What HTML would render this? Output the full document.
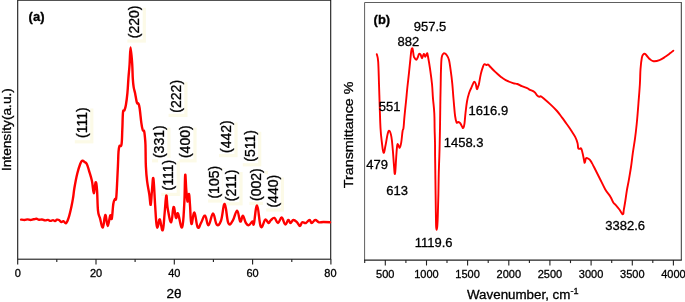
<!DOCTYPE html>
<html lang="en"><head><meta charset="utf-8"><title>XRD and FTIR</title>
<style>html,body{margin:0;padding:0;background:#fff}body{width:685px;height:302px;overflow:hidden}svg{display:block}text{font-family:"Liberation Sans", sans-serif;fill:#000;stroke:#000;stroke-width:0.3px}</style></head><body>
<svg width="685" height="302" viewBox="0 0 685 302">
<rect width="685" height="302" fill="#fff"/>
<g id="xrd">
<rect x="74.8" y="108.5" width="18.6" height="34.9" fill="#fcfae7"/>
<rect x="127.4" y="7.8" width="18.5" height="34.8" fill="#fcfae7"/>
<rect x="168.6" y="82.2" width="18.9" height="34.8" fill="#fcfae7"/>
<rect x="152.1" y="127.6" width="18.4" height="34.8" fill="#fcfae7"/>
<rect x="179.2" y="127.6" width="17.4" height="34.8" fill="#fcfae7"/>
<rect x="161.3" y="161.1" width="18.6" height="34.9" fill="#fcfae7"/>
<rect x="219.0" y="122.5" width="18.6" height="34.7" fill="#fcfae7"/>
<rect x="242.8" y="131.8" width="18.5" height="34.6" fill="#fcfae7"/>
<rect x="208.1" y="168.4" width="17.0" height="34.2" fill="#fcfae7"/>
<rect x="225.6" y="172.0" width="17.0" height="33.4" fill="#fcfae7"/>
<rect x="249.4" y="170.9" width="18.5" height="34.1" fill="#fcfae7"/>
<rect x="266.2" y="177.5" width="17.8" height="34.1" fill="#fcfae7"/>
<rect x="71.6" y="105.3" width="18.6" height="34.9" fill="#fff"/>
<rect x="124.2" y="4.6" width="18.5" height="34.8" fill="#fff"/>
<rect x="165.4" y="79.0" width="18.9" height="34.8" fill="#fff"/>
<rect x="148.9" y="124.4" width="18.4" height="34.8" fill="#fff"/>
<rect x="176.0" y="124.4" width="17.4" height="34.8" fill="#fff"/>
<rect x="158.1" y="157.9" width="18.6" height="34.9" fill="#fff"/>
<rect x="215.8" y="119.3" width="18.6" height="34.7" fill="#fff"/>
<rect x="239.6" y="128.6" width="18.5" height="34.6" fill="#fff"/>
<rect x="204.9" y="165.2" width="17.0" height="34.2" fill="#fff"/>
<rect x="222.4" y="168.8" width="17.0" height="33.4" fill="#fff"/>
<rect x="246.2" y="167.7" width="18.5" height="34.1" fill="#fff"/>
<rect x="263.0" y="174.3" width="17.8" height="34.1" fill="#fff"/>
<rect x="17.7" y="0.2" width="313.0" height="259.0" fill="none" stroke="#1a1a1a" stroke-width="1.1"/>
<line x1="17.7" y1="259.2" x2="17.7" y2="264.4" stroke="#1a1a1a" stroke-width="1.1"/>
<line x1="56.8" y1="259.2" x2="56.8" y2="262.0" stroke="#1a1a1a" stroke-width="1.1"/>
<line x1="96.0" y1="259.2" x2="96.0" y2="264.4" stroke="#1a1a1a" stroke-width="1.1"/>
<line x1="135.1" y1="259.2" x2="135.1" y2="262.0" stroke="#1a1a1a" stroke-width="1.1"/>
<line x1="174.3" y1="259.2" x2="174.3" y2="264.4" stroke="#1a1a1a" stroke-width="1.1"/>
<line x1="213.4" y1="259.2" x2="213.4" y2="262.0" stroke="#1a1a1a" stroke-width="1.1"/>
<line x1="252.6" y1="259.2" x2="252.6" y2="264.4" stroke="#1a1a1a" stroke-width="1.1"/>
<line x1="291.8" y1="259.2" x2="291.8" y2="262.0" stroke="#1a1a1a" stroke-width="1.1"/>
<line x1="330.9" y1="259.2" x2="330.9" y2="264.4" stroke="#1a1a1a" stroke-width="1.1"/>
<text x="17.7" y="277" font-size="11" text-anchor="middle">0</text>
<text x="96.0" y="277" font-size="11" text-anchor="middle">20</text>
<text x="174.3" y="277" font-size="11" text-anchor="middle">40</text>
<text x="252.6" y="277" font-size="11" text-anchor="middle">60</text>
<text x="330.4" y="277" font-size="11" text-anchor="middle">80</text>
<text x="174" y="297.6" font-size="13.5" text-anchor="middle">2θ</text>
<text transform="translate(10.6 129.6) rotate(-90)" font-size="12.6" text-anchor="middle" textLength="83" lengthAdjust="spacingAndGlyphs">Intensity(a.u.)</text>
<text x="28.6" y="21.4" font-size="13" font-weight="bold">(a)</text>
<path fill="none" stroke="#ff0000" stroke-width="2.4" stroke-linejoin="round" stroke-linecap="round" d="M21.1 219.6C21.8 219.7 23.2 220.0 24.5 220.0C25.8 220.0 26.3 219.4 27.5 219.4C28.7 219.4 29.3 220.0 30.5 220.0C31.7 220.0 32.3 219.5 33.5 219.3C34.7 219.1 35.3 218.7 36.4 218.8C37.5 218.9 37.9 219.6 39.0 219.7C40.1 219.8 40.8 219.4 42.0 219.5C43.2 219.6 43.8 220.3 45.0 220.4C46.2 220.5 46.9 219.8 48.0 219.9C49.1 220.0 49.5 220.9 50.5 220.9C51.5 220.9 52.1 220.1 53.0 220.1C53.9 220.1 54.2 221.1 55.0 221.0C55.8 220.9 56.2 219.9 57.0 219.7C57.8 219.5 58.1 219.5 59.0 220.0C59.9 220.5 60.4 221.8 61.3 222.0C62.2 222.2 62.5 220.9 63.4 221.1C64.3 221.3 65.0 223.8 66.0 223.2C67.0 222.6 67.5 221.3 68.6 217.9C69.7 214.5 70.6 210.4 71.5 206.2C72.4 202.0 72.6 200.6 73.2 197.0C73.8 193.4 73.6 192.7 74.4 188.0C75.2 183.3 76.1 178.3 77.3 173.5C78.5 168.7 79.2 166.6 80.2 164.0C81.2 161.4 81.5 161.1 82.4 160.7C83.3 160.3 83.6 161.3 84.5 162.0C85.4 162.7 85.9 162.3 86.8 164.0C87.7 165.7 88.0 167.2 89.0 170.6C90.0 174.0 90.9 176.3 91.9 180.8C92.9 185.3 93.1 192.9 93.8 193.2C94.5 193.5 95.0 183.0 95.6 182.3C96.2 181.6 96.5 183.9 97.0 189.6C97.5 195.3 97.4 204.9 98.0 210.6C98.6 216.3 98.9 214.5 99.9 217.9C100.9 221.3 101.8 228.0 102.9 227.4C104.0 226.8 104.3 215.3 105.3 215.0C106.3 214.7 106.7 225.9 107.7 226.0C108.7 226.1 109.4 217.0 110.2 215.5C111.0 214.0 111.2 220.9 111.8 218.6C112.4 216.3 112.7 207.9 113.3 204.0C113.9 200.1 114.4 200.2 115.0 199.0C115.6 197.8 115.8 201.8 116.2 198.2C116.6 194.6 116.9 187.5 117.2 181.2C117.5 174.9 117.6 172.4 117.9 166.6C118.2 160.8 118.2 156.1 118.5 152.0C118.8 147.9 118.8 147.7 119.4 146.2C120.0 144.7 120.9 147.8 121.5 144.5C122.1 141.2 122.0 136.3 122.3 129.9C122.6 123.5 122.6 116.3 123.0 112.4C123.4 108.5 123.9 111.7 124.5 110.2C125.1 108.7 125.3 108.4 125.9 105.0C126.5 101.6 126.9 98.5 127.4 93.2C127.9 87.9 128.0 84.4 128.4 78.6C128.8 72.8 129.2 70.2 129.6 64.0C130.0 57.8 130.1 47.4 130.6 47.4C131.1 47.4 131.8 57.8 132.2 64.0C132.6 70.2 132.5 73.9 132.8 78.6C133.1 83.3 133.2 84.5 133.7 87.4C134.2 90.3 134.5 90.1 135.1 93.2C135.7 96.3 136.3 100.7 136.9 102.7C137.5 104.7 137.8 102.3 138.3 103.4C138.8 104.5 139.0 104.2 139.6 108.0C140.2 111.8 140.7 118.2 141.3 122.6C141.9 127.0 142.1 128.1 142.7 129.9C143.3 131.7 143.7 129.1 144.2 131.4C144.7 133.7 145.0 137.5 145.3 141.6C145.6 145.7 145.5 147.0 145.6 152.0C145.7 157.0 145.6 160.8 145.9 166.6C146.2 172.4 146.4 175.7 147.1 181.2C147.8 186.7 148.6 189.6 149.3 194.3C150.0 199.0 150.2 205.7 150.7 204.8C151.2 203.9 151.5 195.3 152.0 190.0C152.5 184.7 152.8 175.5 153.4 178.5C154.0 181.5 154.5 195.5 155.1 204.8C155.7 214.1 156.0 221.0 156.6 225.2C157.2 229.4 157.4 227.2 158.0 226.0C158.6 224.8 158.9 218.5 159.8 219.4C160.7 220.3 161.7 231.5 162.7 230.3C163.7 229.1 163.9 220.5 164.6 213.5C165.3 206.5 165.7 196.4 166.3 195.5C166.9 194.6 166.8 203.6 167.8 209.0C168.8 214.4 170.0 222.7 171.2 222.3C172.4 221.9 172.6 207.9 173.6 207.0C174.6 206.1 175.1 216.6 176.0 217.9C176.9 219.2 176.8 211.6 178.0 213.5C179.2 215.4 180.8 229.4 182.1 227.4C183.4 225.4 183.7 213.8 184.3 203.3C184.9 192.8 184.8 177.7 185.2 175.0C185.6 172.3 185.8 184.7 186.3 190.0C186.8 195.3 187.0 200.7 187.5 201.5C188.0 202.3 188.5 193.3 189.0 194.0C189.5 194.7 189.5 199.0 190.0 205.0C190.5 211.0 190.5 222.5 191.4 224.0C192.3 225.5 193.1 211.8 194.4 212.5C195.7 213.2 196.3 225.4 197.7 227.4C199.1 229.4 199.8 224.6 201.3 222.3C202.8 220.0 203.5 215.1 205.0 215.7C206.5 216.3 207.0 225.6 208.6 225.2C210.2 224.8 211.4 213.6 213.0 213.5C214.6 213.4 215.1 223.0 216.7 224.5C218.3 226.0 219.4 224.9 221.0 220.8C222.6 216.7 223.2 203.6 224.7 204.0C226.2 204.4 226.7 219.6 228.3 223.0C229.9 226.4 230.9 223.3 232.7 220.8C234.5 218.3 235.6 210.5 237.1 210.6C238.6 210.7 239.1 220.5 240.3 221.5C241.5 222.5 241.8 215.4 242.9 215.7C244.0 216.0 244.7 221.1 245.9 223.0C247.1 224.9 247.5 225.5 248.8 225.2C250.1 224.9 251.4 221.8 252.4 221.5C253.4 221.2 253.0 226.9 253.9 223.7C254.8 220.5 255.7 204.9 257.1 205.5C258.5 206.1 259.2 223.9 260.8 226.7C262.4 229.5 263.8 220.3 265.3 219.6C266.8 218.9 267.4 222.8 268.5 223.0C269.6 223.2 269.5 221.4 270.7 220.4C271.9 219.4 272.9 217.4 274.4 217.9C275.9 218.4 276.5 223.1 278.0 223.0C279.5 222.9 280.3 217.2 281.7 217.5C283.1 217.8 283.9 224.0 285.2 224.5C286.5 225.0 287.2 220.3 288.3 220.0C289.4 219.7 289.5 223.0 290.5 223.0C291.5 223.0 292.1 220.1 293.4 220.0C294.7 219.9 295.8 221.1 297.1 222.3C298.4 223.5 299.0 226.0 300.0 226.0C301.0 226.0 301.0 222.9 302.2 222.3C303.4 221.7 304.4 223.5 305.9 223.0C307.4 222.5 308.3 220.0 309.5 220.0C310.7 220.0 310.5 223.0 311.7 223.0C312.9 223.0 313.8 220.1 315.3 220.0C316.8 219.9 317.4 221.9 319.0 222.3C320.6 222.7 321.2 222.0 323.4 222.0C325.6 222.0 328.7 222.2 330.0 222.3"/>
<text transform="translate(86.9 122.7) rotate(-90)" font-size="14.0" text-anchor="middle">(111)</text>
<text transform="translate(139.4 21.9) rotate(-90)" font-size="14.0" text-anchor="middle">(220)</text>
<text transform="translate(181.0 96.3) rotate(-90)" font-size="14.0" text-anchor="middle">(222)</text>
<text transform="translate(164.0 141.7) rotate(-90)" font-size="14.0" text-anchor="middle">(331)</text>
<text transform="translate(190.1 141.7) rotate(-90)" font-size="14.0" text-anchor="middle">(400)</text>
<text transform="translate(173.4 175.2) rotate(-90)" font-size="14.0" text-anchor="middle">(111)</text>
<text transform="translate(231.1 136.6) rotate(-90)" font-size="14.0" text-anchor="middle">(442)</text>
<text transform="translate(254.8 145.8) rotate(-90)" font-size="14.0" text-anchor="middle">(511)</text>
<text transform="translate(218.6 182.2) rotate(-90)" font-size="14.0" text-anchor="middle">(105)</text>
<text transform="translate(236.1 185.4) rotate(-90)" font-size="14.0" text-anchor="middle">(211)</text>
<text transform="translate(261.4 184.6) rotate(-90)" font-size="14.0" text-anchor="middle">(002)</text>
<text transform="translate(277.5 191.2) rotate(-90)" font-size="14.0" text-anchor="middle">(440)</text>
</g>
<g id="ftir">
<path d="M364.6 260.1 V2.5 H681.8" fill="none" stroke="#5e5e5e" stroke-width="1"/>
<line x1="681.3" y1="2.5" x2="681.3" y2="260.1" stroke="#333" stroke-width="1"/>
<line x1="364.1" y1="260.1" x2="681.8" y2="260.1" stroke="#222" stroke-width="1.3"/>
<line x1="364.7" y1="260.1" x2="364.7" y2="263.1" stroke="#222" stroke-width="1.1"/>
<line x1="385.3" y1="260.1" x2="385.3" y2="265.5" stroke="#222" stroke-width="1.1"/>
<line x1="405.9" y1="260.1" x2="405.9" y2="263.1" stroke="#222" stroke-width="1.1"/>
<line x1="426.5" y1="260.1" x2="426.5" y2="265.5" stroke="#222" stroke-width="1.1"/>
<line x1="447.0" y1="260.1" x2="447.0" y2="263.1" stroke="#222" stroke-width="1.1"/>
<line x1="467.6" y1="260.1" x2="467.6" y2="265.5" stroke="#222" stroke-width="1.1"/>
<line x1="488.2" y1="260.1" x2="488.2" y2="263.1" stroke="#222" stroke-width="1.1"/>
<line x1="508.8" y1="260.1" x2="508.8" y2="265.5" stroke="#222" stroke-width="1.1"/>
<line x1="529.4" y1="260.1" x2="529.4" y2="263.1" stroke="#222" stroke-width="1.1"/>
<line x1="549.9" y1="260.1" x2="549.9" y2="265.5" stroke="#222" stroke-width="1.1"/>
<line x1="570.5" y1="260.1" x2="570.5" y2="263.1" stroke="#222" stroke-width="1.1"/>
<line x1="591.1" y1="260.1" x2="591.1" y2="265.5" stroke="#222" stroke-width="1.1"/>
<line x1="611.7" y1="260.1" x2="611.7" y2="263.1" stroke="#222" stroke-width="1.1"/>
<line x1="632.3" y1="260.1" x2="632.3" y2="265.5" stroke="#222" stroke-width="1.1"/>
<line x1="652.8" y1="260.1" x2="652.8" y2="263.1" stroke="#222" stroke-width="1.1"/>
<line x1="673.4" y1="260.1" x2="673.4" y2="265.5" stroke="#222" stroke-width="1.1"/>
<text x="385.3" y="278" font-size="11" text-anchor="middle">500</text>
<text x="426.5" y="278" font-size="11" text-anchor="middle">1000</text>
<text x="467.6" y="278" font-size="11" text-anchor="middle">1500</text>
<text x="508.8" y="278" font-size="11" text-anchor="middle">2000</text>
<text x="549.9" y="278" font-size="11" text-anchor="middle">2500</text>
<text x="591.1" y="278" font-size="11" text-anchor="middle">3000</text>
<text x="632.3" y="278" font-size="11" text-anchor="middle">3500</text>
<text x="673.4" y="278" font-size="11" text-anchor="middle">4000</text>
<text x="467" y="299.3" font-size="12.5" textLength="111.5" lengthAdjust="spacingAndGlyphs">Wavenumber, cm<tspan font-size="8.5" dy="-5.3">-1</tspan></text>
<text transform="translate(352.5 134.9) rotate(-90)" font-size="13.6" text-anchor="middle" textLength="106.5" lengthAdjust="spacingAndGlyphs">Transmittance %</text>
<text x="373.6" y="23.8" font-size="13" font-weight="bold">(b)</text>
<path fill="none" stroke="#ff0000" stroke-width="1.9" stroke-linejoin="round" stroke-linecap="round" d="M376.8 54.2C377.1 55.7 377.8 55.9 378.2 61.9C378.6 67.9 378.7 75.2 379.0 84.0C379.3 92.8 379.4 97.1 379.7 105.9C380.0 114.7 380.1 120.7 380.5 128.0C380.9 135.3 381.3 137.6 381.9 142.6C382.5 147.6 382.9 152.2 383.6 152.8C384.3 153.4 384.7 149.3 385.5 145.5C386.3 141.7 386.9 136.7 387.7 133.8C388.5 130.9 388.8 130.3 389.5 130.9C390.2 131.5 390.7 133.0 391.4 136.8C392.1 140.6 392.3 144.4 392.8 149.9C393.3 155.4 393.5 159.7 393.9 164.5C394.3 169.3 394.5 175.3 395.0 173.8C395.5 172.3 395.8 162.9 396.2 157.2C396.6 151.5 396.8 148.0 397.2 145.5C397.6 143.0 397.7 144.4 398.2 144.8C398.7 145.2 399.1 148.1 399.7 147.7C400.3 147.3 400.6 145.9 401.2 142.6C401.8 139.3 402.1 133.9 402.6 131.0C403.1 128.1 403.1 131.0 403.5 128.0C403.9 125.0 404.0 121.4 404.5 116.1C405.0 110.8 405.4 107.3 406.0 101.5C406.6 95.7 406.8 92.6 407.4 87.0C408.0 81.4 408.3 79.2 408.9 73.6C409.5 68.0 409.9 63.7 410.4 59.0C410.9 54.3 411.0 52.2 411.4 50.2C411.8 48.2 412.2 47.8 412.6 48.8C413.0 49.8 413.3 53.6 413.6 55.3C413.9 57.0 413.8 56.6 414.3 57.5C414.8 58.4 415.5 59.7 416.2 59.7C416.9 59.7 417.1 58.7 417.7 57.5C418.3 56.3 418.5 54.5 419.1 53.9C419.7 53.3 420.0 53.7 420.6 54.6C421.2 55.5 421.4 58.3 422.0 58.2C422.6 58.1 423.1 54.2 423.8 53.9C424.5 53.6 424.7 56.9 425.3 56.8C425.9 56.7 426.4 53.6 426.9 53.4C427.4 53.2 427.3 52.8 427.9 56.0C428.5 59.2 429.3 63.6 430.1 69.2C430.9 74.8 431.4 78.1 432.0 84.0C432.6 89.9 432.5 92.8 433.0 98.6C433.5 104.4 434.0 107.3 434.3 113.2C434.6 119.1 434.5 122.1 434.6 128.0C434.7 133.9 434.9 136.8 435.0 142.6C435.1 148.4 435.0 151.3 435.1 157.2C435.2 163.1 435.2 164.6 435.3 172.0C435.4 179.4 435.5 185.4 435.6 194.0C435.7 202.6 435.8 208.6 435.9 215.0C436.0 221.4 436.0 223.0 436.1 226.0C436.2 229.0 436.4 229.8 436.6 229.8C436.8 229.8 437.1 228.8 437.3 226.0C437.5 223.2 437.6 222.2 437.8 215.8C438.0 209.4 438.2 202.7 438.4 193.9C438.6 185.1 438.6 179.3 438.8 172.0C439.0 164.7 439.1 163.1 439.3 157.2C439.5 151.3 439.6 148.4 439.7 142.6C439.8 136.8 439.9 133.9 440.0 128.0C440.1 122.1 440.1 119.1 440.2 113.2C440.3 107.3 440.3 104.4 440.4 98.6C440.5 92.8 440.6 89.9 440.7 84.0C440.8 78.1 440.8 74.5 441.0 69.2C441.2 63.9 441.2 60.6 441.7 57.5C442.2 54.4 442.7 54.5 443.3 53.7C443.9 52.9 444.0 53.1 444.7 53.4C445.4 53.7 445.9 54.0 446.8 55.3C447.7 56.6 448.3 57.2 449.0 60.0C449.7 62.8 449.8 64.4 450.5 69.2C451.2 74.0 451.7 77.6 452.3 83.8C452.9 90.0 453.0 93.6 453.6 100.0C454.2 106.4 454.5 111.5 455.1 116.0C455.7 120.5 456.0 121.3 456.6 122.5C457.2 123.7 457.5 121.9 458.2 122.0C458.9 122.1 459.5 122.3 460.2 123.2C460.9 124.1 461.3 125.3 461.9 126.3C462.5 127.3 462.8 128.6 463.3 128.0C463.8 127.4 464.1 126.4 464.5 123.4C464.9 120.4 465.0 117.6 465.5 113.2C466.0 108.8 466.3 105.6 467.0 101.5C467.7 97.4 468.3 95.6 469.2 92.8C470.1 90.0 470.6 89.4 471.4 87.6C472.2 85.8 472.4 85.0 473.0 83.8C473.6 82.6 473.7 81.6 474.3 81.6C474.9 81.6 475.3 82.5 475.8 84.0C476.3 85.5 476.4 88.7 476.9 89.1C477.4 89.5 477.8 87.3 478.2 86.2C478.6 85.1 478.5 86.3 479.0 83.8C479.5 81.3 480.1 77.1 480.9 73.6C481.7 70.1 482.4 68.2 483.1 66.3C483.8 64.4 483.8 64.3 484.5 64.1C485.2 63.9 485.7 65.0 486.4 65.1C487.1 65.2 487.4 64.1 488.2 64.5C489.0 64.9 488.9 65.5 490.4 67.0C491.9 68.5 493.3 70.1 495.5 72.1C497.7 74.1 499.3 75.6 501.3 77.2C503.3 78.8 503.4 78.9 505.7 80.1C508.0 81.3 510.7 82.3 513.0 83.1C515.3 83.9 515.6 83.4 517.4 84.0C519.2 84.6 519.8 85.3 521.8 86.2C523.8 87.1 526.0 87.7 527.6 88.4C529.2 89.1 528.6 89.1 530.0 89.8C531.4 90.5 532.9 90.8 534.4 92.0C535.9 93.2 536.3 94.7 537.3 95.7C538.3 96.7 538.8 96.7 539.5 96.8C540.2 96.9 539.9 95.9 540.9 96.4C541.9 96.9 542.7 97.7 544.6 99.3C546.5 100.9 547.9 102.1 550.4 104.4C552.9 106.7 554.7 108.4 557.0 111.0C559.3 113.6 560.2 115.1 562.1 117.6C564.0 120.1 565.0 121.7 566.5 123.7C568.0 125.7 568.4 126.3 569.4 127.8C570.4 129.3 570.5 129.4 571.7 131.3C572.9 133.2 574.1 134.8 575.3 137.1C576.5 139.4 576.9 140.8 577.5 143.0C578.1 145.2 577.8 146.9 578.2 148.1C578.6 149.3 579.1 148.7 579.7 148.8C580.3 148.9 580.6 147.6 581.2 148.5C581.8 149.4 582.0 150.8 582.6 153.2C583.2 155.6 583.7 158.6 584.1 160.5C584.5 162.4 584.4 163.1 584.8 162.7C585.2 162.3 585.4 159.2 586.0 158.3C586.6 157.4 586.9 158.0 587.7 158.3C588.5 158.6 589.0 158.8 589.9 159.8C590.8 160.8 591.3 162.0 592.1 163.4C592.9 164.8 592.5 164.1 594.0 167.0C595.5 169.9 597.1 173.2 599.4 177.7C601.7 182.2 603.1 185.6 605.3 189.4C607.5 193.2 608.8 194.1 610.4 196.7C612.0 199.3 612.2 200.8 613.3 202.5C614.4 204.2 614.6 203.7 615.8 205.1C617.0 206.5 618.0 207.7 619.4 209.5C620.8 211.3 621.9 214.2 622.8 214.3C623.7 214.4 623.3 212.5 623.8 209.8C624.3 207.1 624.7 204.8 625.3 201.0C625.9 197.2 626.1 195.2 626.8 190.8C627.5 186.4 628.2 183.9 629.0 179.1C629.8 174.3 630.2 172.2 631.0 167.0C631.8 161.8 632.0 158.9 632.8 153.2C633.6 147.5 634.2 144.4 635.0 138.6C635.8 132.8 636.0 130.9 636.7 124.0C637.4 117.1 637.8 112.0 638.4 104.0C639.0 96.0 639.5 90.8 639.9 83.8C640.3 76.8 640.1 74.5 640.5 69.2C640.9 63.9 641.3 60.5 641.9 57.5C642.5 54.5 642.8 55.0 643.4 54.3C644.0 53.6 644.4 53.6 645.1 53.9C645.8 54.2 646.0 54.9 647.0 56.0C648.0 57.1 648.7 58.3 650.0 59.3C651.3 60.3 651.7 61.0 653.6 61.2C655.5 61.4 657.2 61.0 659.5 60.1C661.8 59.2 663.1 58.2 665.3 56.8C667.5 55.4 668.8 54.3 670.4 53.1C672.0 51.9 672.7 51.2 673.3 50.7"/>
<text x="430.0" y="31.4" font-size="13.0" text-anchor="middle">957.5</text>
<text x="408.4" y="45.6" font-size="13.0" text-anchor="middle">882</text>
<text x="389.7" y="111.3" font-size="13.0" text-anchor="middle">551</text>
<text x="377.1" y="168.9" font-size="13.0" text-anchor="middle">479</text>
<text x="397.1" y="194.9" font-size="13.0" text-anchor="middle">613</text>
<text x="433.7" y="247.0" font-size="13.0" text-anchor="middle">1119.6</text>
<text x="463.6" y="147.4" font-size="13.0" text-anchor="middle">1458.3</text>
<text x="488.3" y="115.0" font-size="13.0" text-anchor="middle">1616.9</text>
<text x="625.2" y="230.4" font-size="13.0" text-anchor="middle">3382.6</text>
</g>
</svg></body></html>
